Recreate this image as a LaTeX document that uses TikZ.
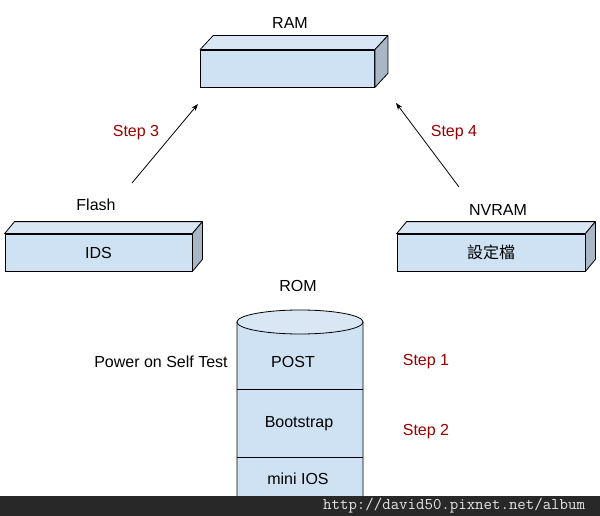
\documentclass[tikz,border=0pt]{standalone}
\usepackage{fontspec}
\setmainfont{Liberation Sans}
\newfontfamily\cjkfont{Noto Sans CJK TC}
\usetikzlibrary{arrows.meta}
\definecolor{boxfill}{HTML}{CFE2F3}
\definecolor{boxtop}{HTML}{D9E7F4}
\definecolor{boxside}{HTML}{A9B6C6}
\definecolor{stepred}{HTML}{990000}
\definecolor{barbg}{HTML}{282828}
\definecolor{bartext}{HTML}{E6E6E6}
\begin{document}
\begin{tikzpicture}[x=1pt,y=-1pt,
  lbl/.style={font=\fontsize{16}{18}\selectfont, inner sep=0pt},
  steplbl/.style={lbl, text=stepred},
  front/.style={draw=black, fill=boxfill, line width=0.8pt, inner sep=0pt, minimum height=37pt, font=\fontsize{16}{18}\selectfont},
  face/.style={draw=black, line width=0.8pt, line join=round},
  arr/.style={draw=black, line width=0.8pt, -{Stealth[length=7pt,width=5pt]}},
  cyl/.style={draw=black, line width=0.8pt}]
\useasboundingbox (0,0) rectangle (600,516);
\fill[white] (0,0) rectangle (600,516);

% RAM box
\node[front, minimum width=174pt] (ram) at (287.5,68.5) {};
\filldraw[face, fill=boxtop] (ram.north west) -- ++(13,-14) -- ([shift={(13pt,14pt)}]ram.north east) -- (ram.north east) -- cycle;
\filldraw[face, fill=boxside] (ram.north east) -- ++(13,-14) -- ([shift={(13pt,14pt)}]ram.south east) -- (ram.south east) -- cycle;
\node[lbl] (ramlbl) at (290,23) {RAM};

% Flash box
\node[front, minimum width=187pt] (flash) at (98.5,252.5) {IDS};
\filldraw[face, fill=boxtop] (flash.north west) -- ++(10,-12) -- ([shift={(10pt,12pt)}]flash.north east) -- (flash.north east) -- cycle;
\filldraw[face, fill=boxside] (flash.north east) -- ++(10,-12) -- ([shift={(10pt,12pt)}]flash.south east) -- (flash.south east) -- cycle;
\node[lbl] (flashlbl) at (96,205) {Flash};

% NVRAM box
\node[front, minimum width=188pt] (nvram) at (491,252.5) {\cjkfont 設定檔};
\filldraw[face, fill=boxtop] (nvram.north west) -- ++(10,-12) -- ([shift={(10pt,12pt)}]nvram.north east) -- (nvram.north east) -- cycle;
\filldraw[face, fill=boxside] (nvram.north east) -- ++(10,-12) -- ([shift={(10pt,12pt)}]nvram.south east) -- (nvram.south east) -- cycle;
\node[lbl] (nvramlbl) at (498,210) {NVRAM};

% Arrows
\coordinate (s3a) at (132,183);
\coordinate (s3b) at (198,104);
\coordinate (s4a) at (459,187);
\coordinate (s4b) at (396,103);
\draw[arr] (s3a) -- (s3b);
\draw[arr] (s4a) -- (s4b);
\node[steplbl] (step3) at (136,133) {Step 3};
\node[steplbl] (step4) at (454,133) {Step 4};

% ROM cylinder
\filldraw[cyl, fill=boxfill] (237,322) -- (237,498) arc[start angle=180, end angle=360, x radius=63pt, y radius=12pt] -- (363,322) -- cycle;
\filldraw[cyl, fill=boxtop] (300,322) ellipse [x radius=63pt, y radius=12pt];
\coordinate (d1l) at (237,389); \coordinate (d1r) at (363,389);
\coordinate (d2l) at (237,457); \coordinate (d2r) at (363,457);
\draw[cyl] (d1l) -- (d1r);
\draw[cyl] (d2l) -- (d2r);
\node[lbl] (romlbl) at (298,286) {ROM};
\node[lbl] (post) at (293,362) {POST};
\node[lbl] (boot) at (299,424) {Bootstrap};
\node[lbl] (mini) at (298,479) {mini IOS};
\node[lbl] (pst) at (161,362) {Power on Self Test};
\node[steplbl] (step1) at (426,362) {Step 1};
\node[steplbl] (step2) at (426,432) {Step 2};

% Watermark bar
\fill[barbg] (0,496) rectangle (600,516);
\node[anchor=west, inner sep=0pt, text=bartext, font=\ttfamily\fontsize{16.4}{18}\selectfont] (wm) at (323,506) {http://david50.pixnet.net/album};
\end{tikzpicture}
\end{document}
